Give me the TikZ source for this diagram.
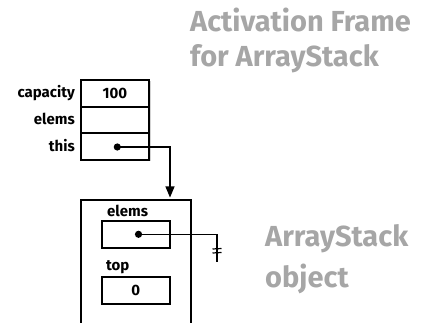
\documentclass[tikz,border=0pt]{standalone}
\usepackage{fontspec}
\setmainfont{Fira Sans}
\usetikzlibrary{arrows.meta,shadows,calc}
\definecolor{titlegray}{RGB}{166,166,166}
\begin{document}
\begin{tikzpicture}[x=1pt,y=-1pt,
  boxline/.style={draw, line width=1.8pt},
  shadowed/.style={drop shadow={shadow xshift=1.5pt, shadow yshift=-1.5pt, opacity=0.35}},
  cell/.style={boxline, minimum width=68pt, minimum height=26.7pt, inner sep=0pt},
  slot/.style={boxline, minimum width=68.3pt, minimum height=27.3pt, inner sep=0pt},
  lbl/.style={font=\bfseries\fontsize{15}{15}\selectfont, inner sep=0pt},
  title/.style={font=\bfseries\fontsize{29}{29}\selectfont, text=titlegray, inner sep=0pt, anchor=base west},
  conn/.style={line width=1.2pt},
  dot/.style={fill=black}
]
\useasboundingbox (0,0) rectangle (439,323);
\clip (0,0) rectangle (439,323);

% titles
\node[title] (t1) at (190,32) {Activation Frame};
\node[title] (t2) at (190,67) {for ArrayStack};
\node[title] (t3) at (265,247) {ArrayStack};
\node[title] (t4) at (265,287) {object};

% activation frame
\node[boxline, fill=white, shadowed, minimum width=68pt, minimum height=80pt, inner sep=0pt] (frame) at (115,120) {};
\node[cell] (cap) at (115,93.3) {};
\node[cell] (el) at (115,120) {};
\node[cell] (th) at (115,146.7) {};
\node[lbl, anchor=base] (v100) at (115,98.5) {100};
\node[lbl, anchor=base east] (lcap) at (75,97.5) {capacity};
\node[lbl, anchor=base east] (lel) at (75,124.5) {elems};
\node[lbl, anchor=base east] (lth) at (75,151.5) {this};

% object
\node[boxline, fill=white, shadowed, minimum width=109.7pt, minimum height=150pt, inner sep=0pt, anchor=north] (obj) at (135.8,199) {};
\node[slot] (oel) at (135.8,234.6) {};
\node[slot] (otop) at (135.8,290.5) {};
\node[lbl, anchor=base west] (loel) at (107,216.5) {elems};
\node[lbl, anchor=base west] (lotop) at (106,270.5) {top};
\node[lbl, anchor=base] (v0) at (135.8,295.5) {0};

% connectors
\coordinate (d1) at (117.3,147);
\coordinate (a1) at (170,197.5);
\draw[conn, -{Triangle[length=11pt,width=9pt]}] (d1) -| (a1);
\fill[dot] (d1) circle (3.6);

\coordinate (d2) at (138.5,234.3);
\coordinate (g) at (217,262);
\draw[conn] (d2) -| (g);
\fill[dot] (d2) circle (3.6);
\draw[conn] ($(g)+(-4.5,-13)$) -- ($(g)+(4.5,-13.5)$);
\draw[conn] ($(g)+(-4.5,-9)$) -- ($(g)+(4.5,-9.5)$);
\end{tikzpicture}
\end{document}
